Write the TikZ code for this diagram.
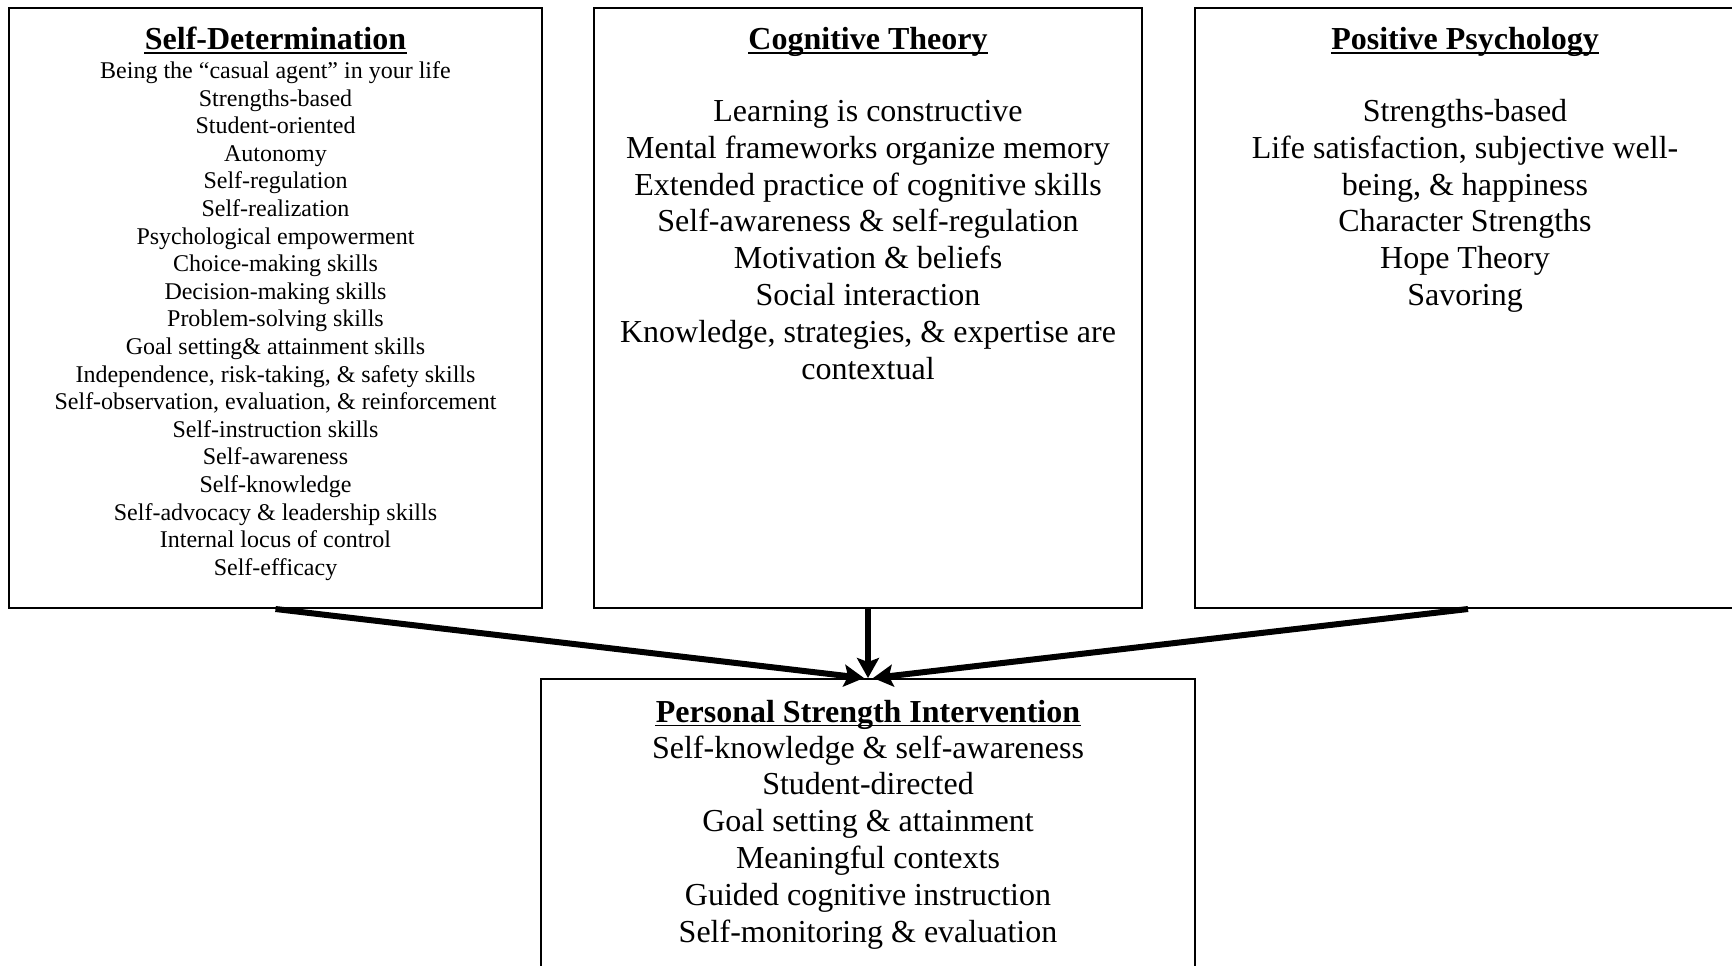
\documentclass[tikz,border=0pt]{standalone}
\usepackage{fontspec}
\setmainfont{Liberation Serif}
\usetikzlibrary{arrows.meta}
\begin{document}
\begin{tikzpicture}[x=0.5pt,y=-0.5pt,
  frame/.style={draw, line width=1pt, rectangle, inner sep=0pt},
  heading/.style={anchor=base, inner sep=0pt, font=\fontsize{16}{18.4}\selectfont\bfseries},
  biglist/.style={anchor=base, inner sep=0pt, font=\fontsize{16}{18.4}\selectfont},
  smalllist/.style={anchor=base, inner sep=0pt, font=\fontsize{12}{13.8}\selectfont},
  uline/.style={line width=0.8pt},
  conn/.style={line width=3pt, -{Stealth[length=10pt,width=11pt,inset=2pt]}}]

\useasboundingbox (0,0) rectangle (1732,965);
\clip (0,0) rectangle (1732,965);
\fill[white] (0,0) rectangle (1732,965);

% boxes
\node[frame, minimum width=266.5pt, minimum height=300pt] (sd)  at (275.5,308) {};
\node[frame, minimum width=274pt,   minimum height=300pt] (ct)  at (868,308)   {};
\node[frame, minimum width=273pt,   minimum height=300pt] (pp)  at (1468,308)  {};
\node[frame, minimum width=327pt,   minimum height=160pt] (psi) at (868,839)   {};

% headings
\node[heading] (sdT)  at (275.5,49.5) {Self-Determination};
\node[heading] (ctT)  at (868,49.5)   {Cognitive Theory};
\node[heading] (ppT)  at (1465,49.5)  {Positive Psychology};
\node[heading] (psiT) at (868,722)    {Personal Strength Intervention};
\foreach \h in {sdT,ctT,ppT,psiT}
  \draw[uline] ([yshift=-1.7pt]\h.base west) -- ([yshift=-1.7pt]\h.base east);

% contents
\node[smalllist] (sdL) at (275.5,78.5) {\begin{tabular}[t]{@{}c@{}}
Being the “casual agent” in your life\\
Strengths-based\\
Student-oriented\\
Autonomy\\
Self-regulation\\
Self-realization\\
Psychological empowerment\\
Choice-making skills\\
Decision-making skills\\
Problem-solving skills\\
Goal setting\& attainment skills\\
Independence, risk-taking, \& safety skills\\
Self-observation, evaluation, \& reinforcement\\
Self-instruction skills\\
Self-awareness\\
Self-knowledge\\
Self-advocacy \& leadership skills\\
Internal locus of control\\
Self-efficacy
\end{tabular}};

\node[biglist] (ctL) at (868,121.5) {\begin{tabular}[t]{@{}c@{}}
Learning is constructive\\
Mental frameworks organize memory\\
Extended practice of cognitive skills\\
Self-awareness \& self-regulation\\
Motivation \& beliefs\\
Social interaction\\
Knowledge, strategies, \& expertise are\\
contextual
\end{tabular}};

\node[biglist] (ppL) at (1465,121.5) {\begin{tabular}[t]{@{}c@{}}
Strengths-based\\
Life satisfaction, subjective well-\\
being, \& happiness\\
Character Strengths\\
Hope Theory\\
Savoring
\end{tabular}};

\node[biglist] (psiL) at (868,758) {\begin{tabular}[t]{@{}c@{}}
Self-knowledge \& self-awareness\\
Student-directed\\
Goal setting \& attainment\\
Meaningful contexts\\
Guided cognitive instruction\\
Self-monitoring \& evaluation
\end{tabular}};

% connectors
\draw[conn] (sd.south) -- ([xshift=-2pt]psi.north);
\draw[conn] (ct.south) -- (psi.north);
\draw[conn] (pp.south) -- ([xshift=2.5pt]psi.north);
\end{tikzpicture}
\end{document}
